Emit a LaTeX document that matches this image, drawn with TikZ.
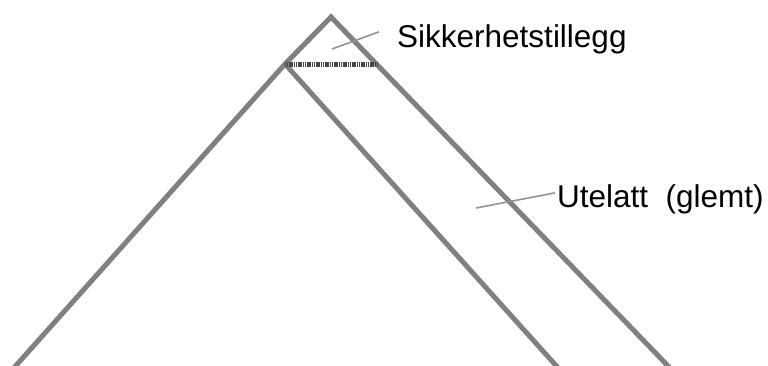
\documentclass[tikz,border=0pt]{standalone}
\usepackage{fontspec}
\setmainfont{Liberation Sans}
\usepackage{tikz}
\usetikzlibrary{positioning}

\begin{document}
\begin{tikzpicture}[
  x=1pt, y=-1pt,
  edge/.style={
    draw=gray,
    line width=5pt,
    line join=miter
  },
  margin/.style={
    draw=gray!55!black,
    line width=5pt,
    dash pattern=on 1.2pt off 0.6pt
  },
  leader/.style={draw=gray!85, line width=1.6pt},
  lbl/.style={inner sep=0pt, anchor=base west},
  font=\fontsize{31.5}{38}\selectfont
]
\useasboundingbox (0,0) rectangle (768,365);
\clip (0,0) rectangle (768,365);

\coordinate (apex) at (331,17);
\coordinate (knee) at (285,64);
\coordinate (leftfoot) at (12,370);
\coordinate (midfoot) at (560,370);
\coordinate (rightfoot) at (672,370);
\coordinate (rim) at (378,64);

% slopes
\draw[edge] (leftfoot) -- (knee) -- (apex) -- (rightfoot);
\draw[edge] (knee) -- (midfoot);
\draw[margin] (knee) -- (rim);

% labels
\node[lbl] (sik) at (397,47) {Sikkerhetstillegg};
\node[lbl] (ute) at (557,207) {Utelatt\ \ (glemt)};

\coordinate (sikTip) at (332,49);
\coordinate (uteTip) at (476,208);
\draw[leader] (sikTip) -- ([xshift=-18pt,yshift=7pt]sik.west);
\draw[leader] (uteTip) -- ([xshift=-2pt,yshift=6pt]ute.west);
\end{tikzpicture}
\end{document}
